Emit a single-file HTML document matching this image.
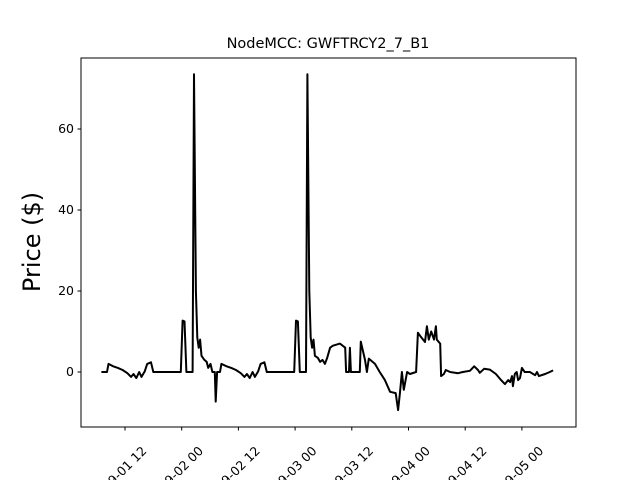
<!DOCTYPE html>
<html><head><meta charset="utf-8"><style>
html,body{margin:0;padding:0;background:#fff;}
svg{display:block;font-family:"DejaVu Sans","Liberation Sans",sans-serif;}
</style></head><body>
<svg id="chart" width="640" height="480" viewBox="0 0 640 480" xmlns="http://www.w3.org/2000/svg">
<rect x="0" y="0" width="640" height="480" fill="#fff"/>
<text x="328" y="48" font-size="14.5" text-anchor="middle">NodeMCC: GWFTRCY2_7_B1</text>
<text transform="translate(40,242) rotate(-90)" font-size="24" text-anchor="middle">Price ($)</text>
<g id="plot"></g>
<rect x="81" y="58" width="495" height="369" fill="none" stroke="#000" stroke-width="1"/>
</svg>
<script>
// hours since 09-01 00:00
const hours = [7,8.2,8.5,9.5,10.5,11.5,12.5,13.3,13.8,14.4,15,15.5,16.2,16.7,17.5,18,23.8,24.2,24.6,25,26.3,26.6,27,27.3,27.6,27.9,28.2,28.8,29.3,29.6,30.1,30.5,31,31.2,31.5,32.1,
32.4,33.5,34.5,35.5,36.5,37.3,37.8,38.4,39,39.5,40.2,40.7,41.5,42,47.8,48.2,48.6,49,50.3,50.6,51,51.3,51.6,51.9,52.2,52.8,53.3,53.8,54.3,54.8,55.4,56,57.5,58.6,58.8,59.4,59.6,59.8,60.1,61.7,61.9,62.8,63.2,63.6,64.9,65.9,67,68.1,69.3,69.8,70.2,70.6,71,71.7,72.3,73.6,74,74.6,75.5,75.9,76.3,76.8,77.4,77.8,78,78.7,78.9,79.5,79.9,80.8,82.5,83.5,85,85.9,86.7,87.1,88,89.2,90.5,91.6,92.4,93.1,93.5,93.9,94.1,94.5,94.9,95.2,95.6,96,96.6,97.7,98.8,99.2,99.6,100.9,101.9,102.6];
const prices = [0,0,2.0,1.4,1.0,0.5,-0.3,-1.2,-0.5,-1.5,0,-1.2,0.2,2.0,2.4,0,0,12.7,12.5,0,0,73.5,20,8.5,6,8,4,3,2.5,1,2,0,0,-7.3,0,0,
2.0,1.4,1.0,0.5,-0.3,-1.2,-0.5,-1.5,0,-1.2,0.2,2.0,2.4,0,0,12.7,12.5,0,0,73.5,20,8.5,6,8,4,3.5,2.5,3,2,3.5,6,6.5,7,6,0,0,6,0,0,0,7.5,3,0,3.3,2,0,-2,-4.9,-5.2,-9.4,-5,0,-4.4,0,-0.5,0,9.7,8.7,7.4,11.3,8,10,8,11.3,8,7,-1,-0.5,0.5,0,-0.3,0,0.3,1.4,0.5,-0.2,0.8,0.6,-0.5,-2,-3,-2,-2.5,-1,-3.5,-0.5,0,-2,-1.5,1,0,0,-0.8,0,-1,-0.5,0,0.4];
const yTicks = [0,20,40,60];
const xTickHours = [12,24,36,48,60,72,84,96];
const xTickLabels = ["09-01 12","09-02 00","09-02 12","09-03 00","09-03 12","09-04 00","09-04 12","09-05 00"];

const NS="http://www.w3.org/2000/svg";
const g=document.getElementById('plot');
const xs=h=>68.3+4.725*h;
const ys=v=>372-4.05*v;
function mk(tag,attrs){const e=document.createElementNS(NS,tag);for(const k in attrs)e.setAttribute(k,attrs[k]);g.appendChild(e);return e;}
yTicks.forEach(v=>{
  const t=mk('line',{x1:77.5,x2:81,y1:ys(v),y2:ys(v),stroke:'#000'});
  
  
  const l=mk('text',{x:74,y:ys(v)+4,'font-size':12.5,'text-anchor':'end'});
  l.textContent=String(v);
  
  
});
xTickHours.forEach((h,i)=>{
  const x=xs(h);
  const t=mk('line',{x1:x,x2:x,y1:427,y2:430.5,stroke:'#000'});
  
  
  const l=mk('text',{transform:`translate(${x},469) rotate(-45)`,'font-size':12.5,'text-anchor':'middle','dominant-baseline':'middle'});
  l.textContent=xTickLabels[i];
  
  
});
let d='';
hours.forEach((h,i)=>{d+=(i?'L':'M')+xs(h).toFixed(1)+','+ys(prices[i]).toFixed(1);});
const p=mk('path',{d:d,fill:'none',stroke:'#000','stroke-width':2,'stroke-linejoin':'round'});


</script>
</body></html>
